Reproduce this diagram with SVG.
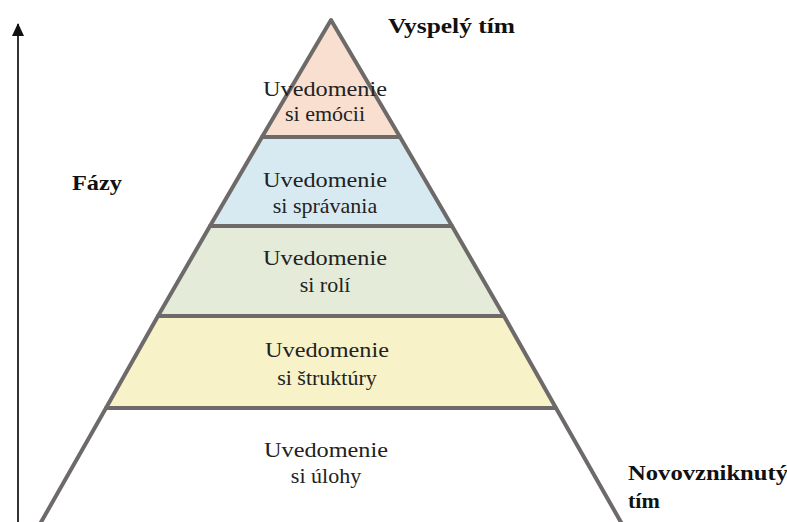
<svg xmlns="http://www.w3.org/2000/svg" width="787" height="522" viewBox="0 0 787 522">
<defs>
<style>
.lv{stroke:#6e6a6a;stroke-width:4;stroke-linejoin:round}
.t{font-family:"Liberation Serif","Times New Roman",serif;font-size:22px;fill:#222;text-anchor:middle}
.b{font-family:"Liberation Serif","Times New Roman",serif;font-size:22px;font-weight:bold;fill:#111}
</style>
<marker id="ah" markerWidth="13" markerHeight="12" refX="12" refY="6" orient="auto" markerUnits="userSpaceOnUse" viewBox="0 0 13 12">
<path d="M0,0 L13,6 L0,12 Z" fill="#111"/>
</marker>
</defs>
<rect width="787" height="522" fill="#fff"/>
<g id="connectors">
<line x1="18" y1="522" x2="18" y2="24" stroke="#333" stroke-width="2" marker-end="url(#ah)"/>
</g>
<g id="level5">
<polygon class="lv" points="331,20 400,137 262,137" fill="#f8dfcf"/>
<text class="t" x="325" y="96" textLength="124" lengthAdjust="spacingAndGlyphs">Uvedomenie</text>
<text class="t" x="325" y="121">si emócii</text>
</g>
<g id="level4">
<polygon class="lv" points="262,137 400,137 452,226 210,226" fill="#d8eaf1"/>
<text class="t" x="325" y="187" textLength="124" lengthAdjust="spacingAndGlyphs">Uvedomenie</text>
<text class="t" x="325" y="213">si správania</text>
</g>
<g id="level3">
<polygon class="lv" points="210,226 452,226 504,316 158,316" fill="#e4ebd8"/>
<text class="t" x="325" y="265" textLength="124" lengthAdjust="spacingAndGlyphs">Uvedomenie</text>
<text class="t" x="325" y="292">si rolí</text>
</g>
<g id="level2">
<polygon class="lv" points="158,316 504,316 556,408 106,408" fill="#f8f2c8"/>
<text class="t" x="327" y="357" textLength="124" lengthAdjust="spacingAndGlyphs">Uvedomenie</text>
<text class="t" x="327" y="385">si štruktúry</text>
</g>
<g id="level1">
<polygon class="lv" points="106,408 556,408 622,524 40,524" fill="#ffffff"/>
<text class="t" x="326" y="457" textLength="124" lengthAdjust="spacingAndGlyphs">Uvedomenie</text>
<text class="t" x="326" y="483">si úlohy</text>
</g>
<g id="labels">
<text class="b" x="388" y="33" textLength="127" lengthAdjust="spacingAndGlyphs">Vyspelý tím</text>
<text class="b" x="72" y="190" textLength="50" lengthAdjust="spacingAndGlyphs">Fázy</text>
<text class="b" x="628" y="480" textLength="160" lengthAdjust="spacingAndGlyphs">Novovzniknutý</text>
<text class="b" x="628" y="508">tím</text>
</g>
</svg>
